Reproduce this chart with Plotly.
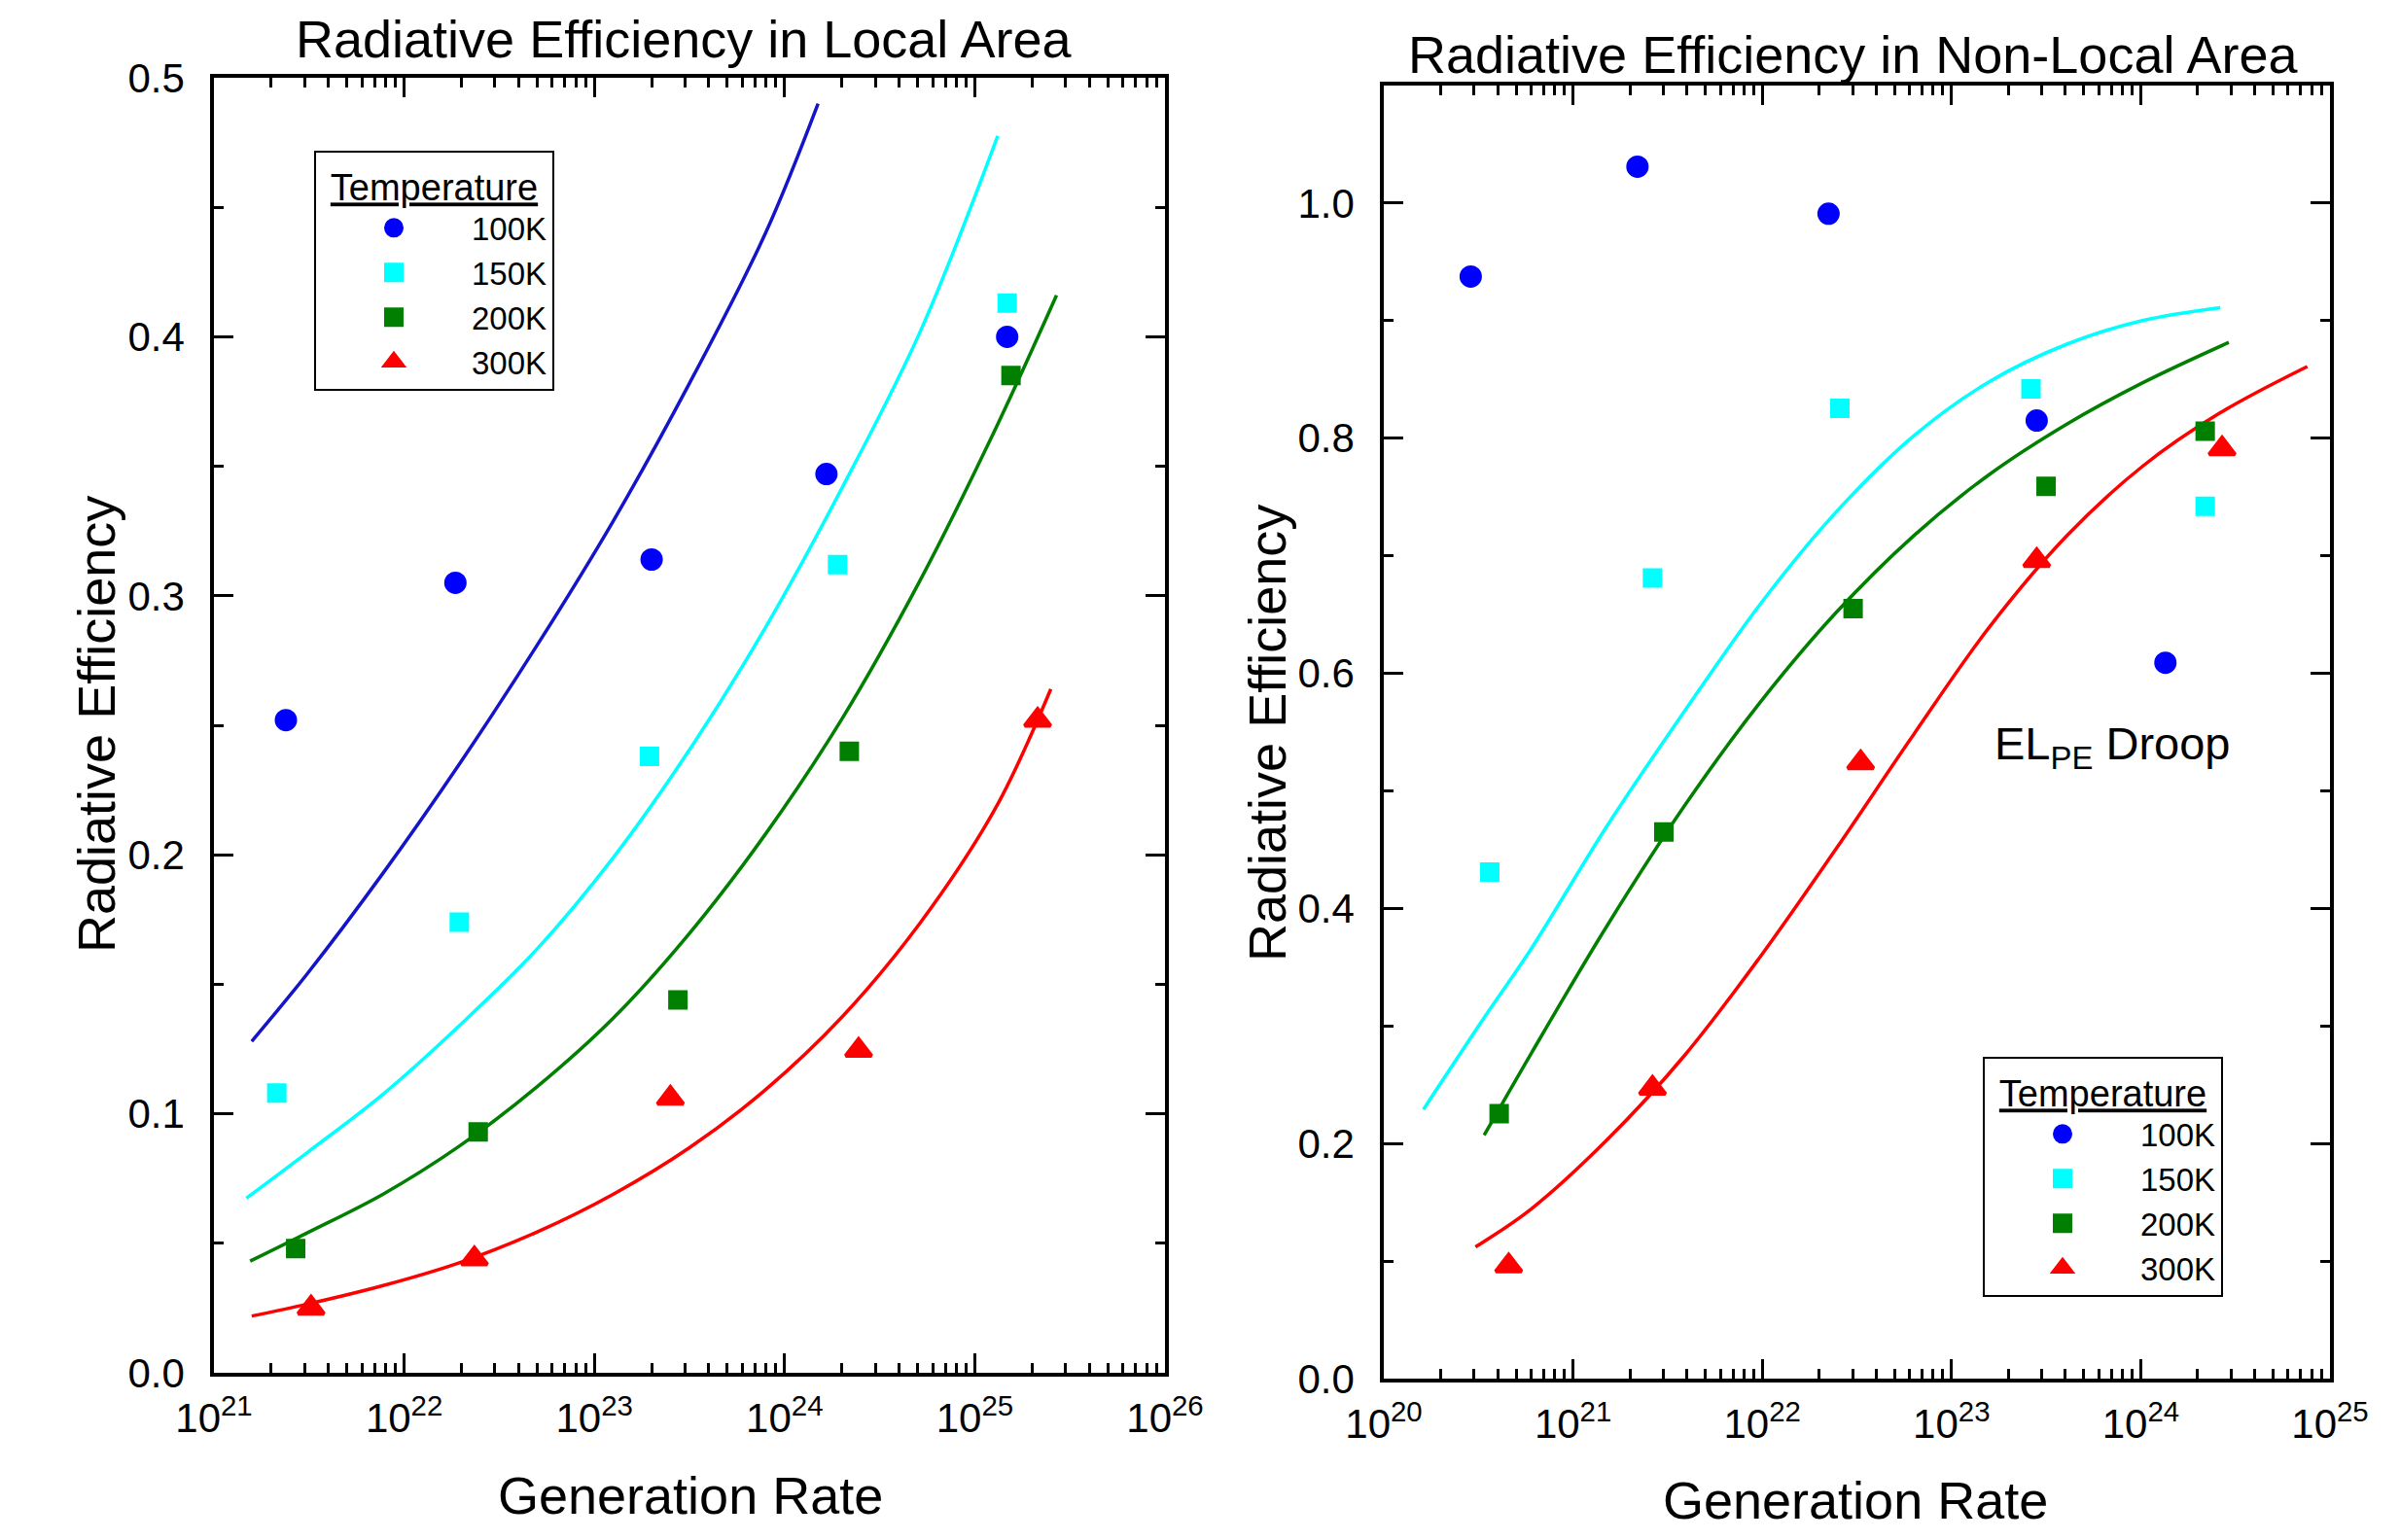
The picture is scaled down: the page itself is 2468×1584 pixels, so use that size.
import plotly.graph_objects as go

# ---------------- data: local area (left panel) ----------------
temps = ["100K", "150K", "200K", "300K"]

L_x_100 = [2.39e21, 1.86e22, 2.0e23, 1.66e24, 1.48e25]
L_y_100 = [0.252, 0.305, 0.314, 0.347, 0.400]
L_x_150 = [2.14e21, 1.95e22, 1.95e23, 1.9e24, 1.48e25]
L_y_150 = [0.108, 0.174, 0.238, 0.312, 0.413]
L_x_200 = [2.69e21, 2.45e22, 2.75e23, 2.19e24, 1.55e25]
L_y_200 = [0.048, 0.093, 0.144, 0.240, 0.385]
L_x_300 = [3.24e21, 2.34e22, 2.51e23, 2.45e24, 2.14e25]
L_y_300 = [0.025, 0.044, 0.106, 0.1245, 0.252]

# fit curves (left)
Lf_x_100 = [1.58e21, 3.09e21, 7.76e21, 1.95e22, 5.01e22, 1.26e23, 3.16e23, 7.94e23, 1.50e24]
Lf_y_100 = [0.128, 0.154, 0.193, 0.235, 0.281, 0.329, 0.382, 0.440, 0.490]
Lf_x_150 = [1.48e21, 3.09e21, 7.76e21, 1.95e22, 5.01e22, 1.26e23, 3.16e23, 7.94e23, 2.0e24, 5.13e24, 1.32e25]
Lf_y_150 = [0.0674, 0.085, 0.1076, 0.134, 0.1637, 0.199, 0.2405, 0.2878, 0.3415, 0.4015, 0.4775]
Lf_x_200 = [1.55e21, 3.09e21, 7.76e21, 1.95e22, 5.01e22, 1.26e23, 3.16e23, 7.94e23, 2.0e24, 5.13e24, 1.29e25, 2.69e25]
Lf_y_200 = [0.0431, 0.054, 0.069, 0.0875, 0.1105, 0.137, 0.1696, 0.208, 0.2524, 0.3056, 0.3647, 0.416]
Lf_x_300 = [1.58e21, 3.09e21, 7.76e21, 1.95e22, 5.01e22, 1.26e23, 3.16e23, 7.94e23, 2.0e24, 5.13e24, 1.29e25, 2.51e25]
Lf_y_300 = [0.0219, 0.0265, 0.0337, 0.0425, 0.0544, 0.069, 0.0869, 0.1093, 0.1373, 0.1734, 0.2182, 0.264]

# ---------------- data: non-local area (right panel) ----------------
R_x_100 = [2.88e20, 2.19e21, 2.24e22, 2.82e23, 1.35e24]
R_y_100 = [0.9375, 1.031, 0.991, 0.815, 0.609]
R_x_150 = [3.63e20, 2.63e21, 2.57e22, 2.63e23, 2.19e24]
R_y_150 = [0.431, 0.681, 0.8255, 0.842, 0.742]
R_x_200 = [4.07e20, 3.02e21, 3.02e22, 3.16e23, 2.19e24]
R_y_200 = [0.2253, 0.465, 0.655, 0.759, 0.806]
R_x_300 = [4.57e20, 2.63e21, 3.31e22, 2.82e23, 2.69e24]
R_y_300 = [0.096, 0.247, 0.524, 0.696, 0.791]

Rf_x_150 = [1.62e20, 3.39e20, 6.03e20, 1.51e21, 3.89e21, 9.77e21, 2.45e22, 6.31e22, 1.58e23, 4.07e23, 1.02e24, 2.63e24]
Rf_y_150 = [0.229, 0.307, 0.366, 0.470, 0.568, 0.659, 0.737, 0.802, 0.848, 0.880, 0.900, 0.911]
Rf_x_200 = [3.39e20, 6.03e20, 1.51e21, 3.89e21, 9.77e21, 2.45e22, 6.31e22, 1.58e23, 4.07e23, 1.02e24, 2.92e24]
Rf_y_200 = [0.207, 0.277, 0.385, 0.4875, 0.5755, 0.6515, 0.717, 0.769, 0.812, 0.847, 0.8815]
Rf_x_300 = [3.05e20, 6.03e20, 1.51e21, 3.89e21, 9.77e21, 2.45e22, 6.31e22, 1.58e23, 4.07e23, 1.02e24, 2.63e24, 7.59e24]
Rf_y_300 = [0.112, 0.1445, 0.203, 0.275, 0.359, 0.4505, 0.548, 0.639, 0.717, 0.776, 0.8216, 0.861]

L_xtick_exp = [21, 22, 23, 24, 25, 26]
R_xtick_exp = [20, 21, 22, 23, 24, 25]
L_yticks = [0.0, 0.1, 0.2, 0.3, 0.4, 0.5]
R_yticks = [0.0, 0.2, 0.4, 0.6, 0.8, 1.0]

# ---------------- styling ----------------
FONT = "Liberation Sans, Arial, sans-serif"
C_BLUE = "#0000FF"
C_BLUE_LINE = "#1414C8"
C_CYAN = "#00FFFF"
C_GREEN = "#007F00"
C_RED = "#FF0000"

OFF = 8               # default page margin of the html body
FW, FH = 2460, 1576   # figure size (page is 2468x1584)

fig = go.Figure()

def add_line(x, y, color, xa, ya):
    fig.add_trace(go.Scatter(x=x, y=y, mode="lines", line=dict(color=color, width=3.5, shape="spline", smoothing=1.0),
                             xaxis=xa, yaxis=ya, showlegend=False, hoverinfo="skip"))

def add_pts(x, y, color, symbol, size, name, xa, ya, legend):
    fig.add_trace(go.Scatter(x=x, y=y, mode="markers", name=name,
                             marker=dict(color=color, symbol=symbol, size=size, line=dict(width=4, color=color)),
                             xaxis=xa, yaxis=ya, legend=legend, showlegend=True))

# left panel
add_line(Lf_x_100, Lf_y_100, C_BLUE_LINE, "x", "y")
add_line(Lf_x_150, Lf_y_150, C_CYAN, "x", "y")
add_line(Lf_x_200, Lf_y_200, C_GREEN, "x", "y")
add_line(Lf_x_300, Lf_y_300, C_RED, "x", "y")
add_pts(L_x_100, L_y_100, C_BLUE, "circle", 19, temps[0], "x", "y", "legend")
add_pts(L_x_150, L_y_150, C_CYAN, "square", 16, temps[1], "x", "y", "legend")
add_pts(L_x_200, L_y_200, C_GREEN, "square", 16, temps[2], "x", "y", "legend")
add_pts(L_x_300, L_y_300, C_RED, "triangle-up", 23, temps[3], "x", "y", "legend")

# right panel
add_line(Rf_x_150, Rf_y_150, C_CYAN, "x2", "y2")
add_line(Rf_x_200, Rf_y_200, C_GREEN, "x2", "y2")
add_line(Rf_x_300, Rf_y_300, C_RED, "x2", "y2")
add_pts(R_x_100, R_y_100, C_BLUE, "circle", 19, temps[0], "x2", "y2", "legend2")
add_pts(R_x_150, R_y_150, C_CYAN, "square", 16, temps[1], "x2", "y2", "legend2")
add_pts(R_x_200, R_y_200, C_GREEN, "square", 16, temps[2], "x2", "y2", "legend2")
add_pts(R_x_300, R_y_300, C_RED, "triangle-up", 23, temps[3], "x2", "y2", "legend2")

def log_minor(exps):
    vals = []
    for e in exps[:-1]:
        for m in range(2, 10):
            vals.append(m * 10.0 ** e)
    return vals

def xaxis_cfg(exps, domain, anchor):
    return dict(type="log", range=[exps[0], exps[-1]], domain=domain, anchor=anchor, automargin=False,
                showline=True, linecolor="black", linewidth=3.5, mirror="allticks",
                ticks="inside", ticklen=20, tickwidth=3, tickcolor="black",
                tickmode="array", tickvals=[10.0 ** e for e in exps],
                ticktext=["10<sup>%d</sup>" % e for e in exps],
                minor=dict(tickmode="array", tickvals=log_minor(exps), ticks="inside",
                           ticklen=10, tickwidth=3, tickcolor="black", showgrid=False),
                showgrid=False, zeroline=False, ticklabelstandoff=7,
                tickfont=dict(family=FONT, size=42, color="black"))

def yaxis_cfg(ticks, step_minor, rng, domain, anchor):
    return dict(range=rng, domain=domain, anchor=anchor, automargin=False,
                showline=True, linecolor="black", linewidth=3.5, mirror="allticks",
                ticks="inside", ticklen=20, tickwidth=3, tickcolor="black",
                tickmode="array", tickvals=ticks, ticktext=["%.1f" % t for t in ticks],
                minor=dict(ticks="inside", dtick=step_minor, ticklen=10, tickwidth=3, tickcolor="black",
                           showgrid=False),
                showgrid=False, zeroline=False, ticklabelstandoff=18,
                tickfont=dict(family=FONT, size=42, color="black"))

def px_x(p):
    return (p - OFF) / FW

def px_y(p):
    return 1 - (p - OFF) / FH

LEG_FONT = dict(family=FONT, size=33, color="black")
LEG_TITLE_FONT = dict(family=FONT, size=38, color="black")

def legend_cfg(left, top):
    return dict(x=px_x(left), y=px_y(top), xanchor="left", yanchor="top",
                bgcolor="white", bordercolor="black", borderwidth=2,
                font=LEG_FONT, itemwidth=150,
                title=dict(text="<u>Temperature</u>", side="top center", font=LEG_TITLE_FONT),
                itemsizing="trace", tracegroupgap=0)

fig.update_layout(
    width=FW, height=FH, margin=dict(l=0, r=0, t=0, b=0, autoexpand=False),
    paper_bgcolor="white", plot_bgcolor="white",
    font=dict(family=FONT, color="black"),
    xaxis=xaxis_cfg(L_xtick_exp, [px_x(220), px_x(1198)], "y"),
    yaxis=yaxis_cfg(L_yticks, 0.05, [0, 0.5], [px_y(1412), px_y(80)], "x"),
    xaxis2=xaxis_cfg(R_xtick_exp, [px_x(1423), px_x(2396)], "y2"),
    yaxis2=yaxis_cfg(R_yticks, 0.1, [0, 1.1], [px_y(1418), px_y(88)], "x2"),
    legend=legend_cfg(323, 155),
    legend2=legend_cfg(2039, 1087),
)

TF = dict(family=FONT, size=54, color="black")
ann = []
ann.append(dict(text="Radiative Efficiency in Local Area", x=px_x(703), y=px_y(40), xref="paper", yref="paper",
                showarrow=False, xanchor="center", yanchor="middle", font=TF))
ann.append(dict(text="Radiative Efficiency in Non-Local Area", x=px_x(1905), y=px_y(56), xref="paper", yref="paper",
                showarrow=False, xanchor="center", yanchor="middle", font=TF))
ann.append(dict(text="Generation Rate", x=px_x(710), y=px_y(1538), xref="paper", yref="paper",
                showarrow=False, xanchor="center", yanchor="middle", font=TF))
ann.append(dict(text="Generation Rate", x=px_x(1908), y=px_y(1543), xref="paper", yref="paper",
                showarrow=False, xanchor="center", yanchor="middle", font=TF))
ann.append(dict(text="Radiative Efficiency", x=px_x(99), y=px_y(745), xref="paper", yref="paper", textangle=-90,
                showarrow=False, xanchor="center", yanchor="middle", font=TF))
ann.append(dict(text="Radiative Efficiency", x=px_x(1303), y=px_y(754), xref="paper", yref="paper", textangle=-90,
                showarrow=False, xanchor="center", yanchor="middle", font=TF))
ann.append(dict(text="EL<sub>PE</sub> Droop", x=23.85, y=0.538, xref="x2", yref="y2",
                showarrow=False, xanchor="center", yanchor="middle", font=dict(family=FONT, size=47, color="black")))
fig.update_layout(annotations=ann)

fig.write_html("out.html")
